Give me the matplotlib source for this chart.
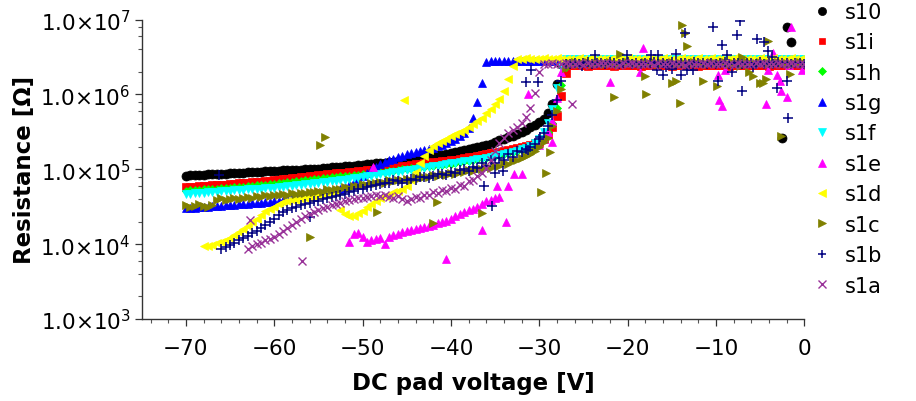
import numpy as np
import matplotlib
matplotlib.use('Agg')
import matplotlib.pyplot as plt
from matplotlib.ticker import FixedLocator, FuncFormatter, NullFormatter, MultipleLocator

# sweep step of the pad voltage [V]
step = 0.5

# resistance readings in kOhm, one value per voltage step
s10_start = -70.0
s10_rise = [82.2, 82.8, 83.4, 84.0, 84.6, 85.2, 85.8, 86.4, 87.1, 87.7, 88.3, 89.0, 89.6, 90.3, 90.9, 91.6,
            92.3, 92.9, 93.6, 94.3, 95.0, 95.7, 96.4, 97.1, 97.8, 98.5, 99.2, 99.9, 100.6, 101.4, 102.1,
            103.3, 104.5, 105.7, 106.9, 108.1, 109.4, 110.7, 111.9, 113.2, 114.5,
            116.1, 117.7, 119.4, 121.0, 122.7, 124.4, 126.1, 127.9, 129.7, 131.5,
            134.4, 137.4, 140.4, 143.5, 146.7, 149.9, 153.2, 156.6, 160.1, 163.6,
            169.1, 174.8, 180.7, 186.8, 193.1, 199.6, 206.3, 213.3, 220.4,
            231.3, 242.8, 254.8, 267.4, 280.6, 299, 318.5, 339.3, 361.5, 393, 428, 465,
            562, 741, 1380, 2510]
s10_flat = [2690, 2720, 2700, 2680, 2710, 2730, 2690, 2700, 2720, 2680,
            2700, 2710, 2690, 2730, 2700, 2680, 2720, 2700, 2690, 2710,
            2700, 2730, 2680, 2700, 2720, 2690, 2710, 2700, 2680, 2720,
            2700, 2690, 2730, 2710, 2700, 2680, 2720, 2690, 2700, 2710,
            2730, 2690, 2700, 2720, 2680, 2710, 2700, 2690, 2720,
            260, 8000, 5000]

s1i_start = -70.0
s1i_rise = [57.5, 58.1, 58.6, 59.2, 59.7, 60.3, 60.8, 61.4, 61.9, 62.5, 63.1,
            63.8, 64.6, 65.3, 66.1, 66.8, 67.6, 68.4, 69.2, 70.0, 70.8,
            71.9, 73.1, 74.3, 75.5, 76.7, 78.0, 79.3, 80.5, 81.8, 83.2,
            84.3, 85.5, 86.7, 87.9, 89.1, 90.4, 91.6, 92.9, 94.2, 95.5,
            97.0, 98.6, 100.2, 101.9, 103.5, 105.2, 106.9, 108.6, 110.4, 112.2,
            114.0, 115.9, 117.8, 119.7, 121.6, 123.6, 125.6, 127.6, 129.7, 131.8,
            134.9, 138.0, 141.3, 144.5, 147.9, 151.4, 154.9, 158.5,
            162.9, 167.1, 171.8, 176.6, 181.1, 186.2, 192.8, 199.5, 206.5, 213.8,
            223.9, 234.4, 257, 295, 363, 513, 955, 1905, 2455]
s1i_flat = [2440, 2470, 2450, 2430, 2460, 2480, 2440, 2450, 2470, 2430,
            2450, 2460, 2440, 2480, 2450, 2430, 2470, 2450, 2440, 2460,
            2450, 2480, 2430, 2450, 2470, 2440, 2460, 2450, 2430, 2470,
            2450, 2440, 2480, 2460, 2450, 2430, 2470, 2440, 2450, 2460,
            2480, 2440, 2450, 2470, 2430, 2460, 2450, 2440, 2470, 2450,
            2460, 2440, 2450]

s1h_start = -70.0
s1h_rise = [51.8, 52.3, 52.7, 53.3, 53.7, 54.3, 54.7, 55.3, 55.7, 56.3, 56.8,
            57.4, 58.1, 58.8, 59.5, 60.1, 60.8, 61.6, 62.3, 63.0, 63.7,
            64.7, 65.8, 66.9, 68.0, 69.0, 70.2, 71.4, 72.5, 73.6, 74.9,
            75.9, 77.0, 78.0, 79.1, 80.2, 81.4, 82.4, 83.6, 84.8, 86.0,
            87.3, 88.7, 90.2, 91.7, 93.2, 94.7, 96.2, 97.7, 99.4, 101.0,
            102.6, 104.3, 106.0, 107.7, 109.4, 111.2, 113.0, 114.8, 116.7, 118.6,
            121.4, 124.2, 127.2, 130.1, 133.1, 136.3, 139.4, 142.7,
            146.6, 150.4, 154.6, 158.9, 163.0, 167.6, 173.5, 179.6, 185.9, 192.4,
            209, 229, 263, 316, 417, 661, 1318, 2344, 2818]
s1h_flat = [2840, 2870, 2850, 2830, 2860, 2880, 2840, 2850, 2870, 2830,
            2850, 2860, 2840, 2880, 2850, 2830, 2870, 2850, 2840, 2860,
            2850, 2880, 2830, 2850, 2870, 2840, 2860, 2850, 2830, 2870,
            2850, 2840, 2880, 2860, 2850, 2830, 2870, 2840, 2850, 2860,
            2880, 2840, 2850, 2870, 2830, 2860, 2850, 2840, 2870, 2850,
            2860, 2840, 2850]

s1g_start = -70.0
s1g_rise = [30.2, 30.5, 30.8, 31.0, 31.3, 31.6, 31.9, 32.2, 32.5, 32.8, 33.1,
            33.5, 33.9, 34.3, 34.7, 35.1, 35.5, 35.9, 36.3, 36.7, 37.2,
            38.1, 39.1, 40.1, 41.1, 42.2, 43.3, 44.4, 45.5, 46.7, 47.9,
            49.0, 50.1, 51.3, 52.5, 55.0, 57.5, 62.4, 67.6, 74.1, 81.3,
            89.1, 97.7, 107.2, 117.5, 124.5, 131.8, 138.0, 144.5, 151.4, 158.5,
            164.1, 169.8, 175.8, 182.0, 188.4, 195.0, 204.2, 213.8, 226.5, 239.9,
            257.0, 275.4, 309.0, 354.8, 478.6, 794.3, 1413, 2692]
s1g_flat = [2760, 2790, 2770, 2750, 2780, 2800, 2760, 2770, 2790, 2750,
            2770, 2780, 2760, 2800, 2770, 2750, 2790, 2770, 2760, 2780,
            2770, 2800, 2750, 2770, 2790, 2760, 2780, 2770, 2750, 2790,
            2770, 2760, 2800, 2780, 2770, 2750, 2790, 2760, 2770, 2780,
            2800, 2760, 2770, 2790, 2750, 2780, 2770, 2760, 2790, 2770,
            2780, 2760, 2770, 2750, 2790, 2770, 2760, 2800, 2780, 2770,
            2750, 2790, 2760, 2770, 2780, 2800, 2760, 2770, 2790, 2750,
            2770, 2780]

s1f_start = -70.0
s1f_rise = [46.8, 47.2, 47.8, 48.2, 48.6, 49.1, 49.7, 50.1, 50.6, 51.1, 51.6,
            52.1, 52.6, 53.1, 53.7, 54.2, 54.7, 55.2, 55.8, 56.4, 56.9,
            57.7, 58.6, 59.4, 60.3, 61.2, 62.1, 63.0, 64.0, 64.9, 65.8,
            66.7, 67.8, 68.7, 69.7, 70.8, 72.3, 73.8, 75.3, 76.9, 78.5,
            80.4, 82.0, 83.8, 85.5, 87.3, 89.1, 91.0, 92.9, 94.8, 96.8,
            98.9, 101.2, 103.3, 105.4, 107.7, 109.9, 112.2, 114.6, 116.9, 119.4,
            121.9, 124.5, 127.4, 130.0, 132.7, 135.5, 138.4, 141.3,
            145.6, 150.3, 154.9, 159.6, 164.8, 169.8, 177.8, 186.2, 195.0, 204.2,
            223.9, 251.2, 316.2, 416.9, 631, 1202, 2291]
s1f_flat = [2940, 2970, 2950, 2930, 2960, 2980, 2940, 2950, 2970, 2930,
            2950, 2960, 2940, 2980, 2950, 2930, 2970, 2950, 2940, 2960,
            2950, 2980, 2930, 2950, 2970, 2940, 2960, 2950, 2930, 2970,
            2950, 2940, 2980, 2960, 2950, 2930, 2970, 2940, 2950, 2960,
            2980, 2940, 2950, 2970, 2930, 2960, 2950, 2940, 2970, 2950,
            2960, 2940, 2950, 2930, 2970]

s1e_start = -51.5
s1e_low = [10.7, 13.5, 14.1, 12.6, 10.7, 11.2, 11.7, 12.0, 10.0, 12.3,
           13.2, 13.8, 14.5, 14.8, 15.5, 15.8, 16.6, 17.0, 17.4, 18.2,
           19.1, 19.5, 20.4, 21.9, 23.4, 25.1, 26.9, 28.2, 29.5, 31.6,
           34.7, 37.2, 38.9, 40.7, 42.7]
s1e_knee_start = -30.0
s1e_knee = [214, 251, 316, 437, 891, 1995,
            2700, 2680, 2720, 2690, 2710, 2700, 2730, 2680, 2700, 2720,
            2690, 2710, 2700, 2680, 2730, 2700, 2690, 2720, 2700, 2710,
            2680, 2700, 2730, 2690, 2710, 2700, 2720, 2680, 2700, 2690,
            2710, 2730, 2700, 2680, 2720, 2700, 2690, 2710, 2700, 2730,
            2680, 2700, 2720, 2690, 2710, 2700, 2680, 2720, 2700, 2690,
            2710, 2700, 2730, 2680, 2700]
s1e_out_v = [-48.8, -40.5, -36.5, -33.8, -34.8, -33.5, -32.8, -32.0, -31.3, -28.6, -18.3, -18.6, -22.0,
             -9.8, -9.6, -9.3, -9.0, -4.3, -4.1, -3.5, -3.1, -2.8, -2.6, -2.0, -1.5, -0.3, -1.7]
s1e_out_r = [107, 6.3, 15.6, 20, 60, 60, 87, 87, 1000, 230, 4200, 2000, 1480,
             1800, 830, 690, 2100, 740, 2100, 3600, 1800, 1500, 1100, 910, 8000, 2100, 2500]

s1d_start = -68.0
s1d_rise = [9.55, 9.55, 9.77, 10.2, 10.7, 11.2, 12.0, 13.2, 14.5, 15.8, 17.4, 19.5, 21.9, 24.5, 27.5,
            29.5, 31.6, 33.9, 36.3, 37.6, 38.9, 39.4, 39.8, 40.7, 41.7, 42.7, 43.7, 44.7, 45.7, 46.8, 47.9,
            28.2, 25.1, 23.4, 24.0, 25.7, 27.5, 30.9, 34.7, 38.0, 40.7, 43.7, 45.7, 49.0, 51.3, 55.0, 60.3,
            72.4, 93.3, 120.2, 151.4, 182.0, 204.2, 223.9, 239.9, 257.0, 275.4, 295.1, 316.2, 338.8, 363.1,
            398.1, 436.5, 489.8, 562.3, 645.7, 741.3, 871.0, 1096, 1585, 2399, 2951]
s1d_flat = [2990, 3020, 3000, 2980, 3010, 3030, 2990, 3000, 3020, 2980,
            3000, 3010, 2990, 3030, 3000, 2980, 3020, 3000, 2990, 3010,
            3000, 3030, 2980, 3000, 3020, 2990, 3010, 3000, 2980, 3020,
            3000, 2990, 3030, 3010, 3000, 2980, 3020, 2990, 3000, 3010,
            3030, 2990, 3000, 3020, 2980, 3010, 3000, 2990, 3020, 3000,
            3010, 2990, 3000, 2980, 3020, 3000, 2990, 3030, 3010, 3000,
            2980, 3020, 2990, 3000, 3010]
s1d_out_v = [-45.3]
s1d_out_r = [850]

s1c_start = -70.0
s1c_rise = [33.1, 31.6, 32.4, 33.9, 32.4, 31.6, 33.1, 38.9, 40.7, 38.9, 40.0, 41.7, 39.8, 41.7, 42.7,
            41.7, 43.7, 42.7, 44.7, 43.7, 45.7, 44.7, 46.8, 45.7, 47.9, 46.8, 48.4, 47.9, 50.1, 49.0,
            51.3, 50.1, 53.7, 52.5, 55.0, 53.7, 57.5, 56.2, 60.3, 58.9, 63.1, 61.7, 66.1, 64.6, 67.6,
            66.1, 70.8, 69.2, 72.4, 70.8, 74.1, 72.4, 77.6, 75.9, 79.4, 77.6, 83.2, 81.3, 85.1, 83.2,
            89.1, 87.1, 93.3, 91.2, 97.7, 95.5, 102.3, 100.0, 107.2, 104.7, 114.8, 112.2, 120.2, 117.5,
            128.8, 131.8, 141.3, 151.4, 162.2, 177.8, 199.5, 229.1, 263.0, 380.2, 602.6, 1175, 2239]
s1c_flat = [2600, 2680, 2570, 2640, 2700, 2560, 2620, 2660, 2540, 2690,
            2610, 2580, 2650, 2720, 2590, 2630, 2550, 2670, 2610, 2690,
            2570, 2640, 2600, 2710, 2560, 2650, 2620, 2580, 2690, 2610,
            2640, 2550, 2680, 2600, 2630, 2700, 2570, 2650, 2610, 2590,
            2670, 2620, 2560, 2690, 2600, 2640, 2580, 2710, 2610, 2650,
            2570, 2630, 2680, 2600]
s1c_out_v = [-54.2, -54.8, -56.0, -48.4, -41.6, -42.0, -36.5, -28.8, -29.2, -29.8, -13.8, -13.5, -13.3,
             -20.9, -21.5, -17.9, -18.0, -15.0, -14.5, -14.1, -11.5, -9.9, -7.0, -6.2, -5.8, -5.0,
             -4.7, -4.3, -4.1, -1.6, -2.6, -7.3]
s1c_out_r = [270, 210, 12.6, 27, 36, 19, 26, 170, 89, 49, 8500, 6700, 4400,
             3500, 910, 1000, 1740, 1420, 1500, 770, 1500, 1300, 3200, 2000, 1740, 1400,
             1400, 1600, 5200, 1900, 280, 2400]

s1b_start = -66.0
s1b_rise = [8.5, 9.1, 9.8, 10.5, 11.2, 12.0, 12.9, 14.0, 15.1, 16.6, 18.2, 20.0, 21.9,
            24.5, 26.9, 28.8, 30.2, 31.6, 33.1, 34.7, 35.5, 37.2, 38.0, 39.8, 40.7, 42.7, 43.7,
            45.7, 46.8, 49.0, 51.3, 53.7, 55.0, 57.5, 58.9, 61.7, 63.1, 64.6, 66.1, 70.8, 69.2,
            66.1, 70.8, 74.1, 72.4, 79.4, 77.6, 75.9, 81.3, 85.1, 87.1, 83.2, 93.3, 89.1, 97.7,
            102.3, 95.5, 107.2, 104.7, 120.2, 112.2, 131.8, 120.2, 141.3, 131.8, 158.5, 147.9,
            173.8, 169.8, 186.2, 199.5, 218.8, 251.2, 302.0, 380.2, 524.8, 831.8, 1514, 2512]
s1b_flat = [2580, 2650, 2540, 2620, 2680, 2550, 2600, 2640, 2520, 2670,
            2590, 2560, 2630, 2700, 2570, 2610, 2530, 2650, 2590, 2670,
            2550, 2620, 2580, 2690, 2540, 2630, 2600, 2560, 2670, 2590,
            2620, 2530, 2660, 2580, 2610, 2680, 2550, 2630, 2590, 2570,
            2650, 2600, 2540, 2670, 2580, 2620, 2560, 2690, 2590, 2630,
            2550, 2610, 2660, 2580]
s1b_out_v = [-66.3, -56.0, -36.3, -35.3, -34.1, -35.0, -30.9, -30.1, -31.5, -29.9, -31.3, -7.3, -10.3,
             -7.6, -13.5, -5.3, -4.6, -9.3, -4.1, -3.7, -8.8, -16.7, -16.0, -15.6, -15.0, -14.0, -13.3,
             -12.6, -9.8, -8.2, -5.8, -7.0, -3.1, -2.0, -1.8, -25.2, -23.7, -20.1, -17.3, -16.5, -14.5]
s1b_out_r = [83, 23, 60, 32, 95, 89, 2100, 1480, 1480, 270, 180, 9600, 7900,
             6200, 6700, 5500, 5000, 4600, 3800, 3200, 3400, 2100, 1800, 2300, 2200, 1800, 2100,
             2100, 1500, 2000, 2300, 1100, 1200, 1500, 480, 2400, 3400, 3400, 3400, 3400, 3500]

s1a_start = -63.0
s1a_rise = [8.7, 9.3, 10.0, 10.5, 11.2, 11.7, 12.6, 13.5, 14.8, 16.2, 17.8, 19.5, 21.4, 23.4, 25.1,
            26.9, 28.2, 30.2, 31.6, 33.1, 34.7, 35.9, 37.2, 38.5, 39.8, 40.7, 41.7, 42.7, 43.7, 44.7,
            43.7, 44.7, 42.7, 41.7, 43.7, 39.8, 37.2, 39.8, 42.7, 41.7, 45.7, 44.7, 49.0, 47.9, 52.5,
            51.3, 56.2, 55.0, 61.7, 60.3, 69.2, 72.4, 81.3, 89.1, 104.7, 131.8, 177.8, 223.9, 263.0,
            302.0, 338.8, 371.5, 416.9, 501.2, 660.7, 1047, 1995, 2512]
s1a_flat = [2540, 2600, 2510, 2580, 2630, 2520, 2560, 2600, 2490, 2620,
            2550, 2520, 2590, 2640, 2530, 2570, 2500, 2610, 2550, 2620,
            2510, 2580, 2540, 2640, 2500, 2590, 2560, 2520, 2620, 2550,
            2580, 2490, 2610, 2540, 2570, 2630, 2510, 2590, 2550, 2530,
            2600, 2560, 2500, 2620, 2540, 2580, 2520, 2630, 2550, 2590,
            2510, 2570, 2610, 2540, 2560, 2600, 2520, 2580, 2550]
s1a_out_v = [-62.7, -56.8, -26.3]
s1a_out_r = [21, 6.0, 740]

names = ['s10', 's1i', 's1h', 's1g', 's1f', 's1e', 's1d', 's1c', 's1b', 's1a']


def sweep(start, *parts):
    r = np.concatenate([np.asarray(p, float) for p in parts])
    v = start + step * np.arange(len(r))
    return v, r * 1e3


fig = plt.figure(figsize=(9.16, 4.02), dpi=100)
ax = fig.add_axes([0.1547, 0.204, 0.7233, 0.745])
ax.set_yscale('log')

styles = {
    's10': dict(marker='o', color='black', ms=6.5),
    's1i': dict(marker='s', color='#ff0000', ms=5.3),
    's1h': dict(marker='D', color='#00ff00', ms=4.5),
    's1g': dict(marker='^', color='#0000ff', ms=6),
    's1f': dict(marker='v', color='#00ffff', ms=6),
    's1e': dict(marker='^', color='#ff00ff', ms=6),
    's1d': dict(marker='<', color='#ffff00', ms=6),
    's1c': dict(marker='>', color='#808000', ms=6.3),
    's1b': dict(marker='+', color='#000080', ms=7, mew=1.1),
    's1a': dict(marker='x', color='#993399', ms=5.8, mew=1.0),
}

data = {
    's10': [sweep(s10_start, s10_rise, s10_flat)],
    's1i': [sweep(s1i_start, s1i_rise, s1i_flat)],
    's1h': [sweep(s1h_start, s1h_rise, s1h_flat)],
    's1g': [sweep(s1g_start, s1g_rise, s1g_flat)],
    's1f': [sweep(s1f_start, s1f_rise, s1f_flat)],
    's1e': [sweep(s1e_start, s1e_low), sweep(s1e_knee_start, s1e_knee),
            (np.array(s1e_out_v), np.array(s1e_out_r) * 1e3)],
    's1d': [sweep(s1d_start, s1d_rise, s1d_flat), (np.array(s1d_out_v), np.array(s1d_out_r) * 1e3)],
    's1c': [sweep(s1c_start, s1c_rise, s1c_flat), (np.array(s1c_out_v), np.array(s1c_out_r) * 1e3)],
    's1b': [sweep(s1b_start, s1b_rise, s1b_flat), (np.array(s1b_out_v), np.array(s1b_out_r) * 1e3)],
    's1a': [sweep(s1a_start, s1a_rise, s1a_flat), (np.array(s1a_out_v), np.array(s1a_out_r) * 1e3)],
}

handles = []
for name in names:
    st = styles[name]
    for v, r in data[name]:
        ax.plot(v, r, ls='none', marker=st['marker'], ms=st['ms'], color=st['color'],
                mec=st['color'], mew=st.get('mew', 0.5))
    h, = ax.plot([], [], ls='none', marker=st['marker'], ms=st['ms'] * 0.9, color=st['color'],
                 mec=st['color'], mew=st.get('mew', 0.5), label=name)
    handles.append(h)

ax.set_xlim(-75, 0)
ax.set_ylim(1e3, 1e7)
ax.xaxis.set_minor_locator(MultipleLocator(2))
ax.set_xticks(np.arange(-70, 1, 10))
ax.set_xticklabels(['\u221270', '\u221260', '\u221250', '\u221240', '\u221230', '\u221220', '\u221210', '0'])
ax.yaxis.set_major_locator(FixedLocator([1e3, 1e4, 1e5, 1e6, 1e7]))
ax.yaxis.set_major_formatter(FuncFormatter(
    lambda y, p: r'$\mathregular{1.0{\times}10^{%d}}$' % round(np.log10(y))))
minors = [m * 10.0 ** e for e in range(3, 7) for m in (2, 4, 6, 8)]
ax.yaxis.set_minor_locator(FixedLocator(minors))
ax.yaxis.set_minor_formatter(NullFormatter())

for s in ['top', 'right']:
    ax.spines[s].set_visible(False)
for s in ['left', 'bottom']:
    ax.spines[s].set_color('#333333')
    ax.spines[s].set_linewidth(1.0)
ax.tick_params(which='major', direction='out', length=5, width=0.9, colors='#333333',
               labelcolor='black')
ax.tick_params(which='minor', direction='out', length=3, width=0.8, colors='#555555')
ax.tick_params(axis='x', which='major', labelsize=15.5, pad=9)
ax.tick_params(axis='y', which='major', labelsize=15.5, pad=3)

ax.set_xlabel('DC pad voltage [V]', fontsize=16.5, fontweight='bold', labelpad=9)
ax.set_ylabel('Resistance [\u03a9]', fontsize=16.5, fontweight='bold', labelpad=3)

fig.legend(handles=handles, loc='upper left', bbox_to_anchor=(0.886, 0.993), frameon=False,
           fontsize=15, handlelength=1.0, handletextpad=0.6, labelspacing=0.5, borderpad=0,
           borderaxespad=0)

fig.savefig('out.png', dpi=100)
